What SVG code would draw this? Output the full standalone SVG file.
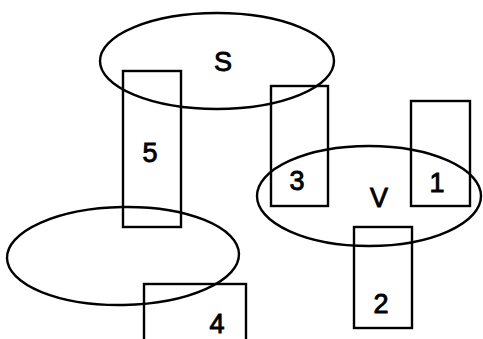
<svg xmlns="http://www.w3.org/2000/svg" width="483" height="339" viewBox="0 0 483 339">
<style>
.b{fill:none;stroke:#000;stroke-width:2.4}
.t{font-family:"Liberation Sans",Arial,sans-serif;font-size:27px;text-anchor:middle;fill:#000;stroke:#000;stroke-width:0.9}
</style>
<rect width="483" height="339" fill="#fff"/>
<g id="node-5"><rect class="b" x="123" y="71" width="58" height="156"/><text class="t" x="150" y="162">5</text></g>
<g id="node-3"><rect class="b" x="271" y="86" width="57" height="120"/><text class="t" x="297" y="190">3</text></g>
<g id="node-1"><rect class="b" x="411" y="101" width="59" height="105"/><text class="t" x="437" y="192">1</text></g>
<g id="node-2"><rect class="b" x="354" y="227" width="58" height="101"/><text class="t" x="381" y="313">2</text></g>
<g id="node-4"><rect class="b" x="144" y="284" width="102" height="70"/><text class="t" x="217" y="333">4</text></g>
<g id="node-S"><ellipse class="b" cx="217" cy="61" rx="117" ry="48"/><text class="t" x="223" y="71">S</text></g>
<g id="node-V"><ellipse class="b" cx="369" cy="196" rx="112" ry="50"/><text class="t" x="379" y="207">V</text></g>
<g id="node-W"><ellipse class="b" cx="123" cy="256" rx="116" ry="49" transform="rotate(-1 123 256)"/></g>
<g id="connectors"></g>
</svg>
